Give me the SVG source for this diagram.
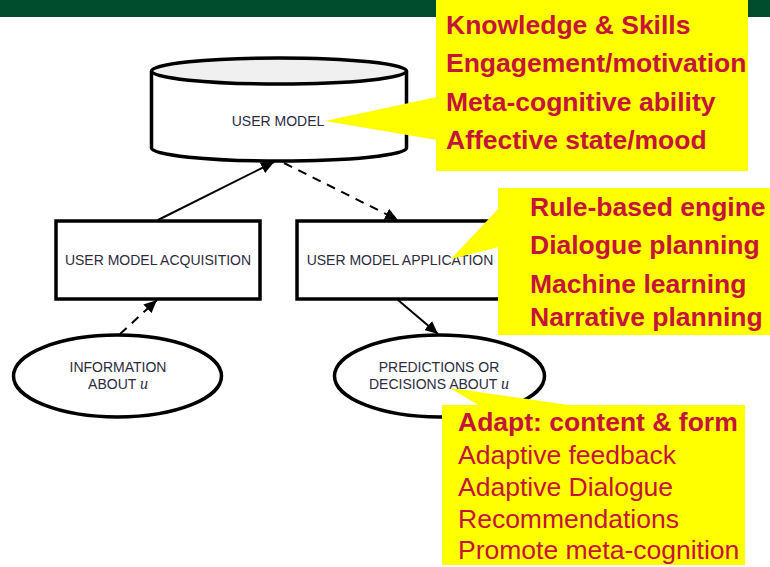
<svg xmlns="http://www.w3.org/2000/svg" width="770" height="567" viewBox="0 0 770 567">
<style>
.lbl{font-family:"Liberation Sans",Arial,sans-serif;font-size:14px;fill:#2b2b40;text-anchor:middle}
.math{font-family:"Liberation Serif","Times New Roman",serif;font-style:italic;font-size:16px}
.shape{fill:#fff;stroke:#000;stroke-width:3.5}
.yel{fill:#ffff00;stroke:none}
.ct{font-family:"Liberation Sans",Arial,sans-serif;font-size:26.5px;fill:#c5133a}
.b{font-weight:bold}
.conn{stroke:#000;stroke-width:2;fill:none}
.dash{stroke-dasharray:9,7}
</style>
<defs>
<marker id="ah" markerUnits="userSpaceOnUse" markerWidth="14" markerHeight="12" refX="13" refY="6" orient="auto">
<path d="M0,0 L13,6 L0,12 Z" fill="#000"/>
</marker>
</defs>
<rect x="0" y="0" width="770" height="17" fill="#004d2e"/>

<g id="user-model">
<path class="shape" d="M151.5,71 L151.5,148 A127.5,13 0 0 0 406.5,148 L406.5,71"/>
<ellipse cx="279" cy="71" rx="127.5" ry="13" fill="#f0f0f0" stroke="#000" stroke-width="3.5"/>
<text class="lbl" x="278" y="126">USER MODEL</text>
</g>

<g id="acquisition">
<rect class="shape" x="56" y="221" width="204" height="78"/>
<text class="lbl" x="158" y="265">USER MODEL ACQUISITION</text>
</g>

<g id="application">
<rect class="shape" x="297" y="221" width="206" height="78"/>
<text class="lbl" x="400" y="265">USER MODEL APPLICATION</text>
</g>

<g id="information">
<ellipse class="shape" cx="117.5" cy="376" rx="104" ry="41"/>
<text class="lbl" x="118" y="372">INFORMATION</text>
<text class="lbl" x="118" y="389">ABOUT <tspan class="math">u</tspan></text>
</g>

<g id="predictions">
<ellipse class="shape" cx="439.5" cy="376" rx="105" ry="41"/>
<text class="lbl" x="439" y="372">PREDICTIONS OR</text>
<text class="lbl" x="439" y="389">DECISIONS ABOUT <tspan class="math">u</tspan></text>
</g>

<g id="connectors">
<line class="conn" x1="158" y1="220" x2="274" y2="162" marker-end="url(#ah)"/>
<line class="conn dash" x1="284" y1="163" x2="398" y2="220" marker-end="url(#ah)"/>
<line class="conn dash" x1="120" y1="334" x2="157" y2="300" marker-end="url(#ah)"/>
<line class="conn" x1="398" y1="300" x2="438" y2="334" marker-end="url(#ah)"/>
</g>

<g id="callout-user-model">
<polygon class="yel" points="325,121 437,97 437,140"/>
<rect class="yel" x="436" y="0" width="312" height="171"/>
<text class="ct b" x="446" y="34">Knowledge &amp; Skills</text>
<text class="ct b" x="446" y="72">Engagement/motivation</text>
<text class="ct b" x="446" y="111">Meta-cognitive ability</text>
<text class="ct b" x="446" y="149">Affective state/mood</text>
</g>

<g id="callout-application">
<polygon class="yel" points="451,259 499,208 499,247"/>
<rect class="yel" x="498" y="188" width="272" height="147"/>
<text class="ct b" x="530" y="216">Rule-based engine</text>
<text class="ct b" x="530" y="254">Dialogue planning</text>
<text class="ct b" x="530" y="293">Machine learning</text>
<text class="ct b" x="530" y="326">Narrative planning</text>
</g>

<g id="callout-predictions">
<polygon class="yel" points="450,388 480,406 576,406"/>
<rect class="yel" x="442" y="405" width="303" height="160"/>
<text class="ct b" x="458" y="431">Adapt: content &amp; form</text>
<text class="ct" x="458" y="464">Adaptive feedback</text>
<text class="ct" x="458" y="496">Adaptive Dialogue</text>
<text class="ct" x="458" y="528">Recommendations</text>
<text class="ct" x="458" y="559">Promote meta-cognition</text>
</g>
</svg>
